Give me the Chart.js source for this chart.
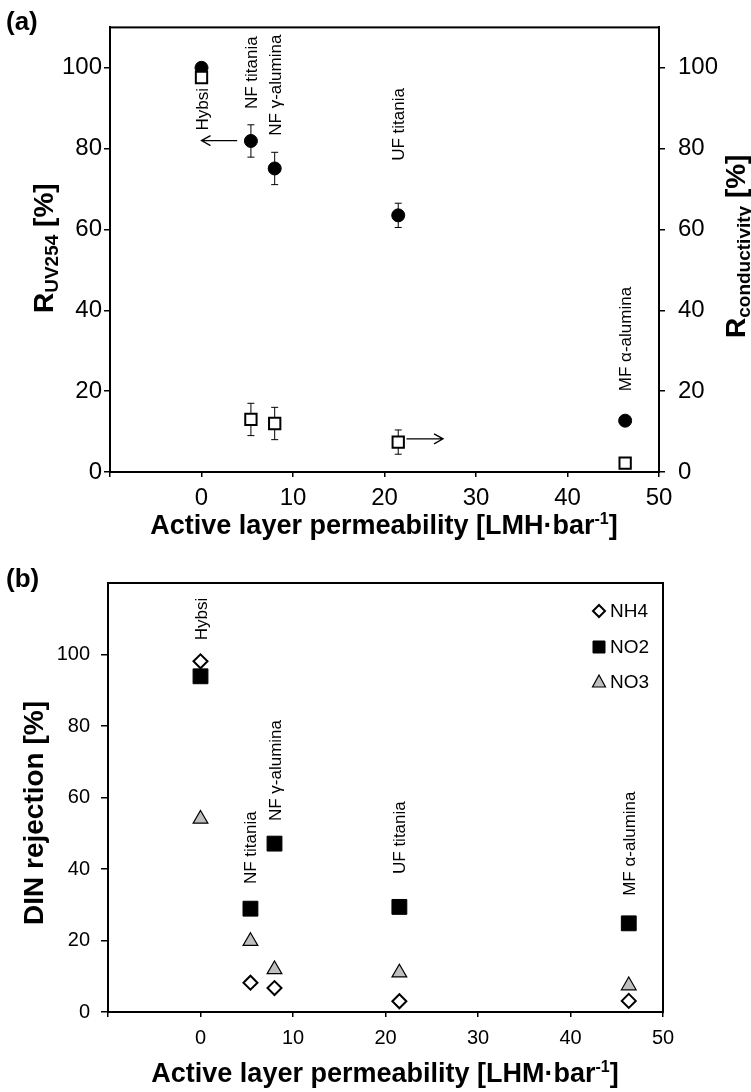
<!DOCTYPE html>
<html>
<head>
<meta charset="utf-8">
<script src="https://cdn.jsdelivr.net/npm/chart.js"></script>
<style>
  body { margin: 0; background: #fff; }
  canvas { position: absolute; left: 0; }
  #chartA { top: 0; }
  #chartB { top: 550px; }
</style>
</head>
<body>
<canvas id="chartA" width="751" height="550"></canvas>
<canvas id="chartB" width="751" height="542"></canvas>
<script>
var FONT = "'Liberation Sans', Arial, sans-serif";
Chart.defaults.font.family = FONT;
Chart.defaults.color = '#000';

// membranes and their active layer permeability
var membranes = ["Hybsi", "NF titania", "NF γ-alumina", "UF titania", "MF α-alumina"];
var permeability = [0, 5.4, 8, 21.5, 46.3];

// (a) rejection of UV254 and conductivity
var uv254 = [100, 81.9, 75.1, 63.5, 12.7];
var uv254Err = [0, 4, 4, 3, 0];
var conductivity = [97.6, 13, 12, 7.4, 2.2];
var conductivityErr = [0, 4, 4, 3, 0];
var labelStartA = [84.5, 89.8, 83.2, 77, 20];

// (b) DIN rejection
var nh4 = [98.1, 8.2, 6.7, 3, 3.1];
var no2 = [93.9, 28.9, 47.1, 29.4, 24.8];
var no3 = [54, 19.8, 11.9, 11, 7.4];
var labelStartB = [104, 35.8, 53.4, 38.6, 32.5];

// arrows in (a): from point, to point
var arrowFrom = [[3.9, 82], [22.4, 8.2]];
var arrowTo = [[0, 82], [26.4, 8.2]];

function points(xs, ys) {
  return xs.map(function (x, i) { return { x: x, y: ys[i] }; });
}

function drawRich(ctx, parts, x, y, align) {
  var w = 0;
  parts.forEach(function (p) { ctx.font = p.font; p.w = ctx.measureText(p.t).width; w += p.w; });
  var cx = align === 'center' ? x - w / 2 : x;
  ctx.textAlign = 'left';
  ctx.textBaseline = 'alphabetic';
  parts.forEach(function (p) { ctx.font = p.font; ctx.fillText(p.t, cx, y + (p.dy || 0)); cx += p.w; });
}

function drawRotated(ctx, parts, x, y) {
  ctx.save();
  ctx.translate(x, y);
  ctx.rotate(-Math.PI / 2);
  drawRich(ctx, parts, 0, 0, 'left');
  ctx.restore();
}

function makeExtras(cfg) {
  return {
    id: 'extras',
    beforeDatasetsDraw: function (chart) {
      var ctx = chart.ctx, xs = chart.scales.x;
      ctx.save();
      ctx.strokeStyle = '#000';
      ctx.lineWidth = 1;
      (cfg.errors || []).forEach(function (e) {
        var ys = chart.scales[e.axis];
        for (var i = 0; i < e.x.length; i++) {
          if (!e.err[i]) continue;
          var px = xs.getPixelForValue(e.x[i]);
          var top = ys.getPixelForValue(e.y[i] + e.err[i]);
          var bot = ys.getPixelForValue(e.y[i] - e.err[i]);
          ctx.beginPath();
          ctx.moveTo(px, top); ctx.lineTo(px, bot);
          ctx.moveTo(px - 3.5, top); ctx.lineTo(px + 3.5, top);
          ctx.moveTo(px - 3.5, bot); ctx.lineTo(px + 3.5, bot);
          ctx.stroke();
        }
      });
      // arrows
      ctx.lineWidth = 1.3;
      (cfg.arrowFrom || []).forEach(function (a, i) {
        var b = cfg.arrowTo[i], ys = chart.scales.y;
        var x1 = xs.getPixelForValue(a[0]), y1 = ys.getPixelForValue(a[1]);
        var x2 = xs.getPixelForValue(b[0]), y2 = ys.getPixelForValue(b[1]);
        var dir = x2 > x1 ? 1 : -1;
        ctx.beginPath();
        ctx.moveTo(x1, y1); ctx.lineTo(x2, y2);
        ctx.moveTo(x2 - dir * 9, y2 - 5); ctx.lineTo(x2, y2); ctx.lineTo(x2 - dir * 9, y2 + 5);
        ctx.stroke();
      });
      ctx.restore();
    },
    afterDraw: function (chart) {
      var ctx = chart.ctx, a = chart.chartArea;
      ctx.save();
      // frame
      ctx.strokeStyle = '#000';
      ctx.lineWidth = 2;
      ctx.strokeRect(a.left, a.top, a.right - a.left, a.bottom - a.top);
      ctx.fillStyle = '#000';
      // membrane labels
      membranes.forEach(function (m, i) {
        var px = chart.scales.x.getPixelForValue(permeability[i]);
        var py = chart.scales.y.getPixelForValue(cfg.labelStart[i]);
        drawRotated(ctx, [{ t: m, font: '17px ' + FONT, dy: 6 }], px, py);
      });
      cfg.draw(ctx, chart);
      ctx.restore();
    }
  };
}

function onlyTo100(s) {
  s.ticks = s.ticks.filter(function (t) { return t.value <= 100; });
}

function xAxis(size, pad, tick) {
  return {
    type: 'linear', min: -10, max: 50,
    ticks: { stepSize: 10, padding: pad, font: { size: size }, color: '#000',
      callback: function (v) { return v < 0 ? '' : v; } },
    grid: { drawOnChartArea: false, tickLength: tick, color: '#000', lineWidth: 1.5 },
    border: { color: '#000', width: 2 }
  };
}

function yAxis(pos, max, size, pad, tick) {
  return {
    type: 'linear', position: pos, min: 0, max: max,
    afterBuildTicks: onlyTo100,
    ticks: { stepSize: 20, padding: pad, font: { size: size }, color: '#000' },
    grid: { drawOnChartArea: false, tickLength: tick, color: '#000', lineWidth: 1.5 },
    border: { color: '#000', width: 2 }
  };
}

// ---- chart (a)
var scalesA = { x: xAxis(24, 7, 5), y: yAxis('left', 110, 24, 2, 6), y2: yAxis('right', 110, 24, 13, 6) };
scalesA.x.afterFit = function (s) { s.height = 78; };
scalesA.y.afterFit = function (s) { s.width = 110; };
scalesA.y2.afterFit = function (s) { s.width = 92; };

new Chart(document.getElementById('chartA'), {
  type: 'scatter',
  data: {
    datasets: [{
      label: 'R conductivity',
      yAxisID: 'y2',
      data: points(permeability, conductivity),
      pointStyle: 'rect', pointRadius: 8, backgroundColor: '#fff', borderColor: '#000', borderWidth: 2,
      order: 0
    }, {
      label: 'R UV254',
      yAxisID: 'y',
      data: points(permeability, uv254),
      pointStyle: 'circle', pointRadius: 6.5, backgroundColor: '#000', borderColor: '#000', borderWidth: 1,
      order: 1
    }]
  },
  options: {
    responsive: false, animation: false,
    layout: { padding: { top: 22, left: 0, right: 0, bottom: 0 } },
    plugins: { legend: { display: false }, tooltip: { enabled: false } },
    scales: scalesA
  },
  plugins: [makeExtras({
    labelStart: labelStartA,
    errors: [
      { axis: 'y', x: permeability, y: uv254, err: uv254Err },
      { axis: 'y2', x: permeability, y: conductivity, err: conductivityErr }
    ],
    arrowFrom: arrowFrom, arrowTo: arrowTo,
    draw: function (ctx) {
      drawRich(ctx, [{ t: '(a)', font: 'bold 26px ' + FONT }], 6, 30, 'left');
      drawRich(ctx, [
        { t: 'Active layer permeability [LMH·bar', font: 'bold 27px ' + FONT },
        { t: '-1', font: 'bold 16px ' + FONT, dy: -10 },
        { t: ']', font: 'bold 27px ' + FONT }
      ], 384, 534, 'center');
      drawRotated(ctx, [
        { t: 'R', font: 'bold 28px ' + FONT },
        { t: 'UV254', font: 'bold 19px ' + FONT, dy: 5 },
        { t: ' [%]', font: 'bold 28px ' + FONT }
      ], 53, 313);
      drawRotated(ctx, [
        { t: 'R', font: 'bold 28px ' + FONT },
        { t: 'conductivity', font: 'bold 19px ' + FONT, dy: 5 },
        { t: ' [%]', font: 'bold 28px ' + FONT }
      ], 745, 338);
    }
  })]
});

// ---- chart (b)
var scalesB = { x: xAxis(20, 9, 5), y: yAxis('left', 120, 20, 11, 7) };
scalesB.x.afterFit = function (s) { s.height = 80; };
scalesB.y.afterFit = function (s) { s.width = 108; };

var seriesB = [
  { label: 'NH4', values: nh4, style: 'rectRot', r: 7, bg: '#fff', bw: 2, order: 1 },
  { label: 'NO2', values: no2, style: 'rect', r: 10.5, bg: '#000', bw: 1, order: 0 },
  { label: 'NO3', values: no3, style: 'triangle', r: 8.5, bg: '#bfbfbf', bw: 1.2, order: 2 }
];

new Chart(document.getElementById('chartB'), {
  type: 'scatter',
  data: {
    datasets: seriesB.map(function (s) {
      return {
        label: s.label, data: points(permeability, s.values),
        pointStyle: s.style, pointRadius: s.r, backgroundColor: s.bg, borderColor: '#000',
        borderWidth: s.bw, order: s.order
      };
    })
  },
  options: {
    responsive: false, animation: false,
    layout: { padding: { top: 33, left: 0, right: 88, bottom: 0 } },
    plugins: { legend: { display: false }, tooltip: { enabled: false } },
    scales: scalesB
  },
  plugins: [makeExtras({
    labelStart: labelStartB,
    draw: function (ctx) {
      drawRich(ctx, [{ t: '(b)', font: 'bold 26px ' + FONT }], 6, 37, 'left');
      drawRich(ctx, [
        { t: 'Active layer permeability [LHM·bar', font: 'bold 27px ' + FONT },
        { t: '-1', font: 'bold 16px ' + FONT, dy: -10 },
        { t: ']', font: 'bold 27px ' + FONT }
      ], 385, 532, 'center');
      drawRotated(ctx, [{ t: 'DIN rejection [%]', font: 'bold 28px ' + FONT }], 43, 375);
      // legend
      var lx = 599, ly = [61, 97, 132];
      ctx.strokeStyle = '#000';
      seriesB.forEach(function (s, i) {
        var y = ly[i];
        ctx.fillStyle = s.bg;
        ctx.lineWidth = s.bw;
        ctx.beginPath();
        if (s.style === 'rectRot') {
          ctx.moveTo(lx, y - 6); ctx.lineTo(lx + 6, y); ctx.lineTo(lx, y + 6); ctx.lineTo(lx - 6, y); ctx.closePath();
        } else if (s.style === 'rect') {
          ctx.rect(lx - 6, y - 6, 12, 12);
        } else {
          ctx.moveTo(lx, y - 7); ctx.lineTo(lx + 6.5, y + 5); ctx.lineTo(lx - 6.5, y + 5); ctx.closePath();
        }
        ctx.fill();
        ctx.stroke();
        ctx.fillStyle = '#000';
        ctx.font = '19px ' + FONT;
        ctx.textAlign = 'left';
        ctx.textBaseline = 'middle';
        ctx.fillText(s.label, lx + 11, y + 1);
      });
    }
  })]
});
</script>
</body>
</html>
